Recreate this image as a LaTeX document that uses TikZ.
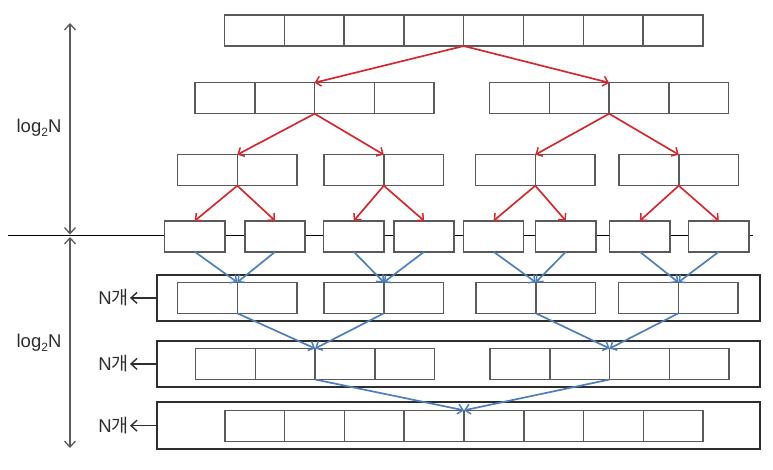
\documentclass[tikz,border=0pt]{standalone}
\usepackage{fontspec}
\setmainfont{Liberation Sans}
\newfontfamily\kor{Noto Sans CJK KR}
\usetikzlibrary{arrows.meta}
\definecolor{cellgray}{HTML}{5A5A5A}
\definecolor{boxgray}{HTML}{2E2E2E}
\definecolor{redarr}{HTML}{D42A2F}
\definecolor{bluearr}{HTML}{4F7FBA}
\tikzset{
  cell/.style={draw=cellgray, line width=1.5pt, fill=white, minimum width=#1, minimum height=31pt, inner sep=0pt, outer sep=0pt},
  cell/.default=59.8pt,
  outerbox/.style={draw=boxgray, line width=2pt, fill=white, inner sep=0pt, outer sep=0pt},
  redarrow/.style={draw=redarr, line width=1.7pt, -{Straight Barb[length=5pt,width=10pt,line width=1.5pt]}},
  bluearrow/.style={draw=bluearr, line width=1.7pt, -{Straight Barb[length=5pt,width=10pt,line width=1.5pt]}},
  dimarrow/.style={draw=cellgray, line width=1.3pt, {Straight Barb[length=6pt,width=11pt]}-{Straight Barb[length=6pt,width=11pt]}},
  larrow/.style={draw=boxgray, line width=1.4pt, -{Straight Barb[length=6pt,width=11pt]}},
  lbl/.style={font=\fontsize{18.5}{20}\selectfont, inner sep=0pt, text=boxgray}
}
\begin{document}
\begin{tikzpicture}[x=1pt,y=-1pt]
\useasboundingbox (0,0) rectangle (773,470);
% horizontal divider
\coordinate (hl) at (8,235.5);
\coordinate (hr) at (753,235.5);
\draw[black, line width=1.3pt] (hl) -- (hr);
% dimension arrows
\coordinate (v1) at (70,23);
\coordinate (v2a) at (70,234.5);
\coordinate (v2b) at (70,237);
\coordinate (v3) at (70,448);
\draw[dimarrow] (v1) -- (v2a);
\draw[dimarrow] (v2b) -- (v3);
\node[lbl] (L1) at (39,128) {log\raisebox{-0.35ex}{\fontsize{12}{12}\selectfont 2}N};
\node[lbl] (L2) at (39,343) {log\raisebox{-0.35ex}{\fontsize{12}{12}\selectfont 2}N};
% outer boxes
\node[outerbox, minimum width=602.5pt, minimum height=46.8pt] (E) at (458.25,297.9) {};
\node[outerbox, minimum width=602.5pt, minimum height=46.8pt] (F) at (458.25,363.9) {};
\node[outerbox, minimum width=602.5pt, minimum height=46.7pt] (G) at (458.25,425.65) {};
% row 1
\foreach \i in {1,...,8} {
  \node[cell] (a\i) at ({224.5+29.9+59.8*(\i-1)},30.5) {};
}
% row 2
\foreach \i in {1,...,4} {
  \node[cell] (b\i) at ({195+29.9+59.8*(\i-1)},98.2) {};
}
\foreach \i in {5,...,8} {
  \node[cell] (b\i) at ({489.5+29.9+59.8*(\i-5)},98.2) {};
}
% row 3
\foreach \s/\j in {177.5/1,324/3,475.5/5,619/7} {
  \pgfmathtruncatemacro{\k}{\j+1}
  \node[cell] (c\j) at ({\s+29.9},170.2) {};
  \node[cell] (c\k) at ({\s+89.7},170.2) {};
}
% row 4
\foreach \s [count=\i] in {164.7,245,323.7,394,463.5,535.7,609.7,688.7} {
  \node[cell=60.2pt] (d\i) at ({\s+30.1},236.3) {};
}
% row 5
\foreach \s/\j in {177.5/1,324/3,476/5,618.5/7} {
  \pgfmathtruncatemacro{\k}{\j+1}
  \node[cell] (e\j) at ({\s+29.9},297.8) {};
  \node[cell] (e\k) at ({\s+89.7},297.8) {};
}
% row 6
\foreach \i in {1,...,4} {
  \node[cell] (f\i) at ({195.5+29.9+59.8*(\i-1)},364) {};
}
\foreach \i in {5,...,8} {
  \node[cell] (f\i) at ({490+29.9+59.8*(\i-5)},364) {};
}
% row 7
\foreach \i in {1,...,8} {
  \node[cell] (g\i) at ({224.8+29.9+59.8*(\i-1)},425.8) {};
}
% red arrows (divide)
\draw[redarrow] (a4.south east) -- (b2.north east);
\draw[redarrow] (a4.south east) -- (b6.north east);
\draw[redarrow] (b2.south east) -- (c1.north east);
\draw[redarrow] (b2.south east) -- (c3.north east);
\draw[redarrow] (b6.south east) -- (c5.north east);
\draw[redarrow] (b6.south east) -- (c7.north east);
\foreach \p/\l/\r in {1/1/2,3/3/4,5/5/6,7/7/8} {
  \draw[redarrow] (c\p.south east) -- (d\l.north);
  \draw[redarrow] (c\p.south east) -- (d\r.north);
}
% blue arrows (merge)
\foreach \p/\l/\r in {1/1/2,3/3/4,5/5/6,7/7/8} {
  \draw[bluearrow] (d\l.south) -- (e\p.north east);
  \draw[bluearrow] (d\r.south) -- (e\p.north east);
}
\draw[bluearrow] (e1.south east) -- (f2.north east);
\draw[bluearrow] (e3.south east) -- (f2.north east);
\draw[bluearrow] (e5.south east) -- (f6.north east);
\draw[bluearrow] (e7.south east) -- (f6.north east);
\draw[bluearrow] (f2.south east) -- (g4.north east);
\draw[bluearrow] (f6.south east) -- (g4.north east);
% N labels
\coordinate (ne) at (130,297.9);
\coordinate (nf) at (130,363.9);
\coordinate (ng) at (130,425.65);
\draw[larrow] (E.west) -- (ne);
\draw[larrow] (F.west) -- (nf);
\draw[larrow] (G.west) -- (ng);
\node[lbl, anchor=east] (NE) at (129,297.9) {N{\kor 개}};
\node[lbl, anchor=east] (NF) at (129,363.9) {N{\kor 개}};
\node[lbl, anchor=east] (NG) at (129,425.65) {N{\kor 개}};
\end{tikzpicture}
\end{document}
